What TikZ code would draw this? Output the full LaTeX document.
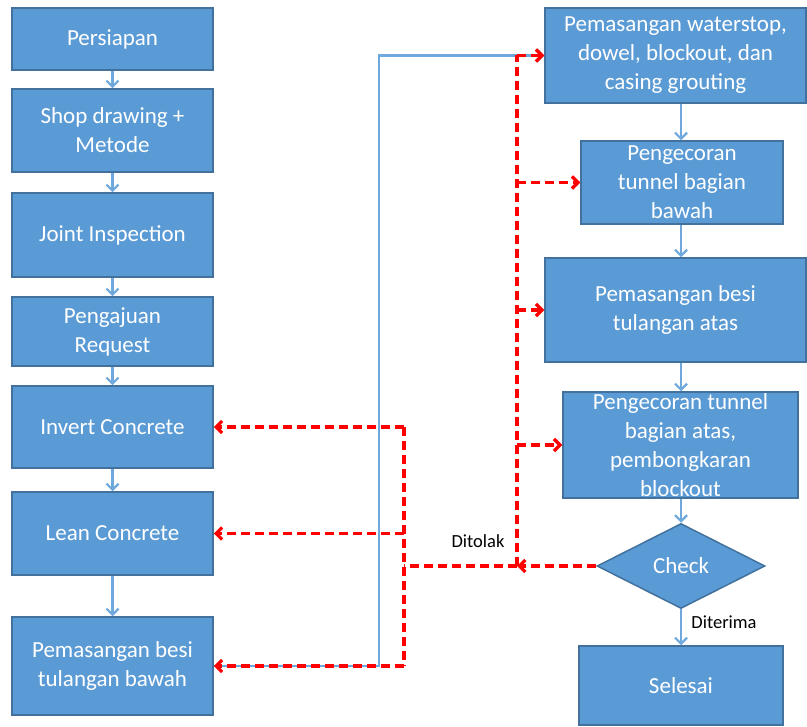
\documentclass[tikz,border=0pt]{standalone}
\usepackage{fontspec}
\setmainfont{Carlito}
\usetikzlibrary{arrows.meta,shapes.geometric}
\definecolor{boxfill}{HTML}{5B9BD5}
\definecolor{boxline}{HTML}{41719C}
\definecolor{flowblue}{HTML}{6FA8DC}
\tikzset{
  proc/.style={draw=boxline, fill=boxfill, line width=1.5pt, text=white,
    align=center, inner sep=0pt, font=\fontsize{23}{29}\selectfont},
  cek/.style={diamond, draw=boxline, fill=boxfill, line width=1.5pt, text=white,
    inner sep=0pt, font=\fontsize{23}{29}\selectfont},
  flow/.style={->, draw=flowblue, line width=2.2pt},
  rejline/.style={draw=red, line width=3.2pt, dash pattern=on 9pt off 5pt},
  reject/.style={rejline, ->},
  lbl/.style={font=\fontsize{18.5}{20}\selectfont, text=black, inner sep=0pt}
}
\begin{document}
\begin{tikzpicture}[x=1pt, y=-1pt, >={Straight Barb[length=6pt,width=12pt]}]
  \useasboundingbox (0,0) rectangle (807,727);
  % kolom kiri
  \node[proc, minimum width=201pt, minimum height=62pt] (persiapan) at (112.5,39) {Persiapan};
  \node[proc, minimum width=201pt, minimum height=83pt] (shop) at (112.5,130.5) {Shop drawing +\\Metode};
  \node[proc, minimum width=201pt, minimum height=84pt] (joint) at (112.5,235) {Joint Inspection};
  \node[proc, minimum width=201pt, minimum height=69pt] (ajuan) at (112.5,331.5) {Pengajuan\\Request};
  \node[proc, minimum width=201pt, minimum height=82pt] (invert) at (112.5,427) {Invert Concrete};
  \node[proc, minimum width=201pt, minimum height=83pt] (lean) at (112.5,533.5) {Lean Concrete};
  \node[proc, minimum width=201pt, minimum height=98pt] (besibawah) at (112.5,666) {Pemasangan besi\\tulangan bawah};
  % kolom kanan
  \node[proc, minimum width=261pt, minimum height=95pt] (waterstop) at (675.5,55.5) {Pemasangan waterstop,\\dowel, blockout, dan\\casing grouting};
  \node[proc, minimum width=202pt, minimum height=83pt] (corbawah) at (682,182.5) {Pengecoran\\tunnel bagian\\bawah};
  \node[proc, minimum width=261pt, minimum height=104pt] (besiatas) at (675.5,310) {Pemasangan besi\\tulangan atas};
  \node[proc, minimum width=235pt, minimum height=106pt] (coratas) at (680.5,445) {Pengecoran tunnel\\bagian atas,\\pembongkaran\\blockout};
  \node[cek, minimum width=168pt, minimum height=85pt] (check) at (681,566) {Check};
  \node[proc, minimum width=204pt, minimum height=79pt] (selesai) at (681,685.5) {Selesai};
  \node[lbl] (ditolak) at (478,541) {Ditolak};
  \node[lbl] (diterima) at (724,622) {Diterima};
  \coordinate (loop) at (379,0);
  \coordinate (rj) at (517,0);
  \coordinate (lj) at (404,0);
  % panah biru
  \draw[flow] (persiapan) -- (shop);
  \draw[flow] (shop) -- (joint);
  \draw[flow] (joint) -- (ajuan);
  \draw[flow] (ajuan) -- (invert);
  \draw[flow] (invert) -- (lean);
  \draw[flow] (lean) -- (besibawah);
  \draw[flow] (besibawah.east) -- (besibawah.east -| loop) |- (waterstop.west);
  \draw[flow] (waterstop.south -| check.north) -- (corbawah.north -| check.north);
  \draw[flow] (corbawah.south -| check.north) -- (besiatas.north -| check.north);
  \draw[flow] (besiatas.south -| check.north) -- (coratas.north -| check.north);
  \draw[flow] (coratas.south -| check.north) -- (check.north);
  \draw[flow] (check.south) -- (selesai.north);
  % ditolak (merah putus-putus)
  \draw[reject] (check.west) -- (check.west -| rj);
  \draw[rejline] (check.west -| rj) -- (lj |- check.west);
  \draw[rejline] (check.west -| rj) -- (rj |- waterstop.west);
  \draw[reject] (rj |- waterstop.west) -- (waterstop.west);
  \draw[reject] (rj |- corbawah.west) -- (corbawah.west);
  \draw[reject] (rj |- besiatas.west) -- (besiatas.west);
  \draw[reject] (rj |- coratas.west) -- (coratas.west);
  \draw[rejline] (lj |- invert.east) -- (lj |- besibawah.east);
  \draw[reject] (lj |- invert.east) -- (invert.east);
  \draw[reject] (lj |- lean.east) -- (lean.east);
  \draw[reject] (lj |- besibawah.east) -- (besibawah.east);
\end{tikzpicture}
\end{document}
